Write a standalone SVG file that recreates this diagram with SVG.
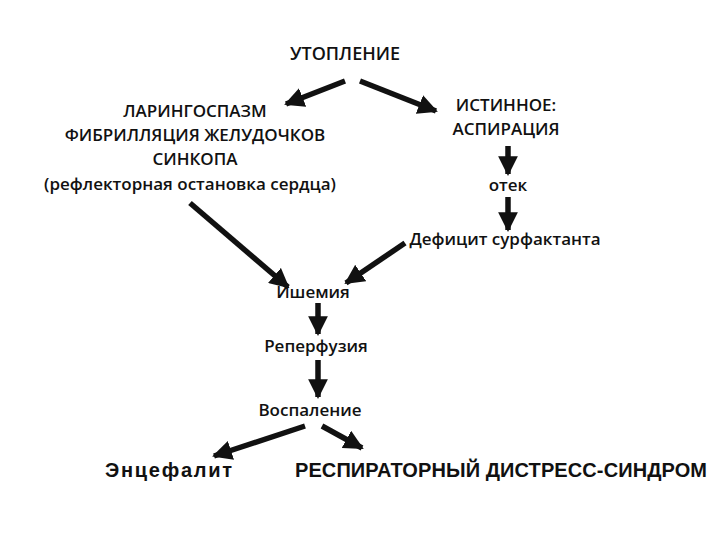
<svg xmlns="http://www.w3.org/2000/svg" width="720" height="540" viewBox="0 0 720 540">
<style>
.t{font-family:"Open Sans","Liberation Sans",sans-serif;font-size:17px;font-weight:600;fill:#111;text-anchor:middle}
.b{font-family:"Liberation Sans",Arial,sans-serif;font-size:20px;font-weight:bold;fill:#111}
.c line{stroke:#111;stroke-width:5.5}
</style>
<defs><marker id="a" viewBox="0 0 10 10" refX="9" refY="5" markerWidth="3.6" markerHeight="3.6" orient="auto" markerUnits="strokeWidth"><path d="M0 0L10 5L0 10z" fill="#111"/></marker></defs>
<rect width="720" height="540" fill="#fff"/>
<g id="n1"><text class="t" x="345" y="60" style="font-size:18px">УТОПЛЕНИЕ</text></g>
<g id="n2"><text class="t" x="195" y="117">ЛАРИНГОСПАЗМ</text><text class="t" x="195" y="141">ФИБРИЛЛЯЦИЯ ЖЕЛУДОЧКОВ</text><text class="t" x="195" y="165">СИНКОПА</text><text class="t" x="190" y="190">(рефлекторная остановка сердца)</text></g>
<g id="n3"><text class="t" x="506" y="111">ИСТИННОЕ:</text><text class="t" x="506" y="135">АСПИРАЦИЯ</text></g>
<g id="n4"><text class="t" x="508" y="191">отек</text></g>
<g id="n5"><text class="t" x="505" y="245">Дефицит сурфактанта</text></g>
<g id="n6"><text class="t" x="313" y="298">Ишемия</text></g>
<g id="n7"><text class="t" x="316" y="352">Реперфузия</text></g>
<g id="n8"><text class="t" x="310" y="416">Воспаление</text></g>
<g id="n9"><text class="b" x="105" y="477" textLength="127">Энцефалит</text></g>
<g id="n10"><text class="b" x="295" y="477" textLength="412">РЕСПИРАТОРНЫЙ ДИСТРЕСС-СИНДРОМ</text></g>
<g class="c">
<line x1="345" y1="81" x2="286" y2="104" marker-end="url(#a)"/>
<line x1="360" y1="81" x2="436" y2="111" marker-end="url(#a)"/>
<line x1="508" y1="146" x2="508" y2="174" marker-end="url(#a)"/>
<line x1="508" y1="197" x2="508" y2="230" marker-end="url(#a)"/>
<line x1="190" y1="203" x2="288" y2="287" marker-end="url(#a)"/>
<line x1="405" y1="243" x2="346" y2="283" marker-end="url(#a)"/>
<line x1="318" y1="303" x2="318" y2="334" marker-end="url(#a)"/>
<line x1="318" y1="360" x2="318" y2="397" marker-end="url(#a)"/>
<line x1="305" y1="426" x2="214" y2="456" marker-end="url(#a)"/>
<line x1="322" y1="426" x2="362" y2="448" marker-end="url(#a)"/>
</g>
</svg>
